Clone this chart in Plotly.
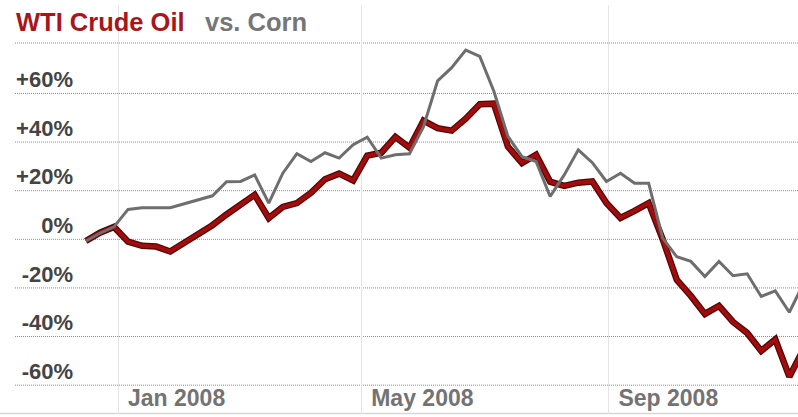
import pandas as pd
import plotly.graph_objects as go

# Weekly closes, % change since the week of 16 Dec 2007
week_dates = pd.date_range("2007-12-16", periods=52, freq="7D")

oil_change = [
    -0.7, 2.7, 5.1, -1.0, -2.7, -3.0, -5.0, -1.4, 2.3, 5.8,
    10.2, 14.2, 18.3, 8.7, 13.3, 14.9, 19.1, 24.7, 27.0, 24.2,
    34.4, 35.6, 42.1, 37.7, 48.8, 45.7, 44.7, 49.6, 55.6, 55.8,
    38.1, 31.4, 34.8, 23.7, 22.0, 23.3, 23.8, 14.9, 8.8, 11.7,
    14.9, 0.0, -16.7, -23.3, -30.7, -27.4, -34.0, -38.5, -45.9, -41.2,
    -56.5, -45.3,
]

corn_change = [
    -0.7, 2.5, 5.1, 12.3, 13.0, 13.0, 13.0, 14.6, 16.3, 17.9,
    23.7, 23.8, 26.5, 14.9, 27.2, 35.2, 32.0, 35.6, 33.4, 38.9,
    42.0, 33.4, 34.8, 35.2, 46.3, 65.2, 70.6, 77.8, 75.2, 60.9,
    42.3, 34.0, 32.0, 17.6, 26.5, 36.8, 31.5, 23.8, 27.2, 23.1,
    23.1, 0.5, -7.2, -9.1, -15.3, -9.1, -15.0, -14.2, -23.5, -21.2,
    -30.0, -18.3,
]

y_ticks = [60, 40, 20, 0, -20, -40, -60]
y_tick_labels = ["+60%", "+40%", "+20%", "0%", "-20%", "-40%", "-60%"]

series_names = ["WTI Crude Oil", "vs. Corn"]

# ---- page geometry (pixels) ----
W, H = 798, 417
ML, MR, MT, MB = 78, 0, 5, 3
PW, PH = W - ML - MR, H - MT - MB

ZERO_PX = 239.3      # vertical pixel of the 0% line
PX_PER_PCT = 2.431
JAN1_PX = 118.0      # horizontal pixel of 1 Jan 2008
PX_PER_DAY = 2.01

jan1 = pd.Timestamp("2008-01-01")
x_start = jan1 - pd.Timedelta(days=(JAN1_PX - ML) / PX_PER_DAY)
x_end = jan1 + pd.Timedelta(days=(W - MR - JAN1_PX) / PX_PER_DAY)
y_top = (ZERO_PX - MT) / PX_PER_PCT
y_bot = (ZERO_PX - (H - MB)) / PX_PER_PCT


def px_x(px):
    return (px - ML) / PW


def px_y(py):
    return (H - MB - py) / PH


GRID_DOT = "#8c8c8c"
OIL_RED = "#a20c0c"
OIL_EDGE = "#520606"
CORN_GREY = "#6e6e6e"
FONT = "Liberation Sans, Arial, sans-serif"

fig = go.Figure()

# oil: dark edge under a red core
fig.add_trace(go.Scatter(
    x=week_dates, y=oil_change, mode="lines",
    line=dict(color=OIL_EDGE, width=6.5), hoverinfo="skip",
))
fig.add_trace(go.Scatter(
    x=week_dates, y=oil_change, mode="lines", name=series_names[0],
    line=dict(color=OIL_RED, width=4),
))
fig.add_trace(go.Scatter(
    x=week_dates, y=corn_change, mode="lines", name=series_names[1],
    line=dict(color=CORN_GREY, width=3),
))

shapes = []
# dotted horizontal rules at each y tick, running under the labels too
for v in y_ticks:
    shapes.append(dict(
        type="line", xref="paper", yref="y",
        x0=px_x(15), x1=1, y0=v, y1=v,
        line=dict(color=GRID_DOT, width=1, dash="1px,1px"), layer="below",
    ))
# dotted rule under the heading
shapes.append(dict(
    type="line", xref="paper", yref="paper",
    x0=px_x(15), x1=1, y0=px_y(43), y1=px_y(43),
    line=dict(color=GRID_DOT, width=1, dash="1px,1px"), layer="below",
))
# baseline along the bottom
shapes.append(dict(
    type="line", xref="paper", yref="paper",
    x0=px_x(0), x1=1, y0=px_y(413.5), y1=px_y(413.5),
    line=dict(color="#d8d8d8", width=1.5), layer="below",
))

annotations = [
    dict(text=series_names[0], xref="paper", yref="paper",
         x=px_x(14), y=px_y(22), xanchor="left", yanchor="middle",
         showarrow=False,
         font=dict(family=FONT, size=25.5, color="#a8161b", weight="bold")),
    dict(text=series_names[1], xref="paper", yref="paper",
         x=px_x(203), y=px_y(22), xanchor="left", yanchor="middle",
         showarrow=False,
         font=dict(family=FONT, size=25.5, color="#767676", weight="bold")),
]

fig.update_layout(
    width=W, height=H,
    margin=dict(l=ML, r=MR, t=MT, b=MB, pad=0),
    paper_bgcolor="white", plot_bgcolor="white",
    showlegend=False,
    shapes=shapes,
    annotations=annotations,
    xaxis=dict(
        type="date",
        range=[x_start, x_end],
        tick0="2008-01-01", dtick="M4",
        tickformat="%b %Y",
        showgrid=True, gridcolor="#e4e4e4", gridwidth=1,
        zeroline=False, showline=False, ticks="",
        ticklabelposition="inside right",
        ticklabelshift=10, ticklabelstandoff=-3,
        tickfont=dict(family=FONT, size=23, color="#737373", weight="bold"),
        fixedrange=True,
    ),
    yaxis=dict(
        range=[y_bot, y_top],
        tickvals=y_ticks, ticktext=y_tick_labels,
        showgrid=False, zeroline=False, showline=False, ticks="",
        ticklabelshift=-14, ticklabelstandoff=4,
        tickfont=dict(family=FONT, size=22, color="#444444", weight="bold"),
        fixedrange=True,
    ),
)

fig.write_html("out.html", config={"displayModeBar": False})
